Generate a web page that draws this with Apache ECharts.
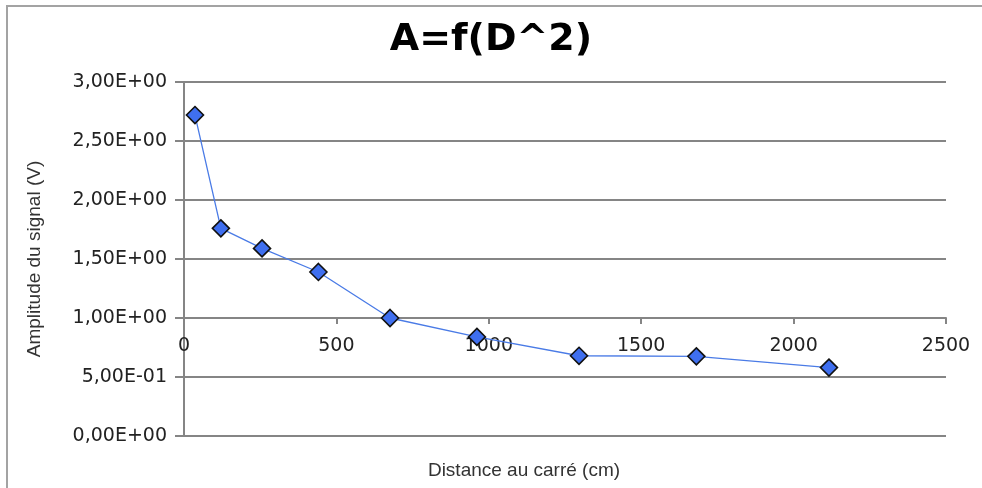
<!DOCTYPE html>
<html>
<head>
<meta charset="utf-8">
<title>A=f(D^2)</title>
<script src="https://cdn.jsdelivr.net/npm/echarts@6/dist/echarts.min.js"></script>
<style>
  html, body { margin: 0; padding: 0; background: #ffffff; }
  #chart { width: 982px; height: 488px; }
</style>
</head>
<body>
<div id="chart"></div>
<script>
// Squared distance (cm) and measured signal amplitude (V)
const distanceSquared = [36, 121, 256, 441, 676, 961, 1296, 1681, 2116];
const amplitude = [2.72, 1.76, 1.59, 1.39, 1.00, 0.84, 0.68, 0.675, 0.58];

// Tick labels in the spreadsheet's scientific notation
const yTickValues = [0, 0.5, 1, 1.5, 2, 2.5, 3];
const yTickLabels = ['0,00E+00', '5,00E-01', '1,00E+00', '1,50E+00', '2,00E+00', '2,50E+00', '3,00E+00'];
const xTickLabels = ['0', '500', '1000', '1500', '2000', '2500'];

const chartTitle = 'A=f(D^2)';
const xAxisTitle = 'Distance au carré (cm)';
const yAxisTitle = 'Amplitude du signal (V)';

const points = distanceSquared.map((d, i) => [d, amplitude[i]]);

const gridColor = '#858585';
const tickFont = 'DejaVu Sans';
const nameFont = 'Liberation Sans';

const chart = echarts.init(document.getElementById('chart'), null, { renderer: 'canvas' });

chart.setOption({
  animation: false,
  backgroundColor: '#ffffff',
  title: [
    {
      text: chartTitle,
      left: 'center',
      top: 16,
      textStyle: { fontFamily: tickFont, fontWeight: 'bold', fontSize: 38, color: '#000000' }
    },
    {
      text: xAxisTitle,
      left: 519,
      top: 456,
      textAlign: 'center',
      textStyle: { fontFamily: nameFont, fontWeight: 'normal', fontSize: 19, color: '#333333' }
    }
  ],
  grid: { left: 184, right: 36, top: 82, bottom: 52, containLabel: false },
  xAxis: {
    type: 'value',
    min: 0,
    max: 2500,
    interval: 500,
    position: 'bottom',
    offset: -118,
    axisLine: { show: true, onZero: false, lineStyle: { color: gridColor, width: 2 } },
    axisTick: { show: true, inside: false, length: 6, lineStyle: { color: gridColor, width: 2 } },
    axisLabel: {
      margin: 19,
      fontFamily: tickFont,
      fontSize: 19,
      color: '#222222',
      formatter: (v) => {
        const idx = Math.round(v / 500);
        return xTickLabels[idx] !== undefined ? xTickLabels[idx] : '';
      }
    },
    splitLine: { show: false }
  },
  yAxis: {
    type: 'value',
    min: 0,
    max: 3,
    interval: 0.5,
    name: yAxisTitle,
    nameLocation: 'middle',
    nameRotate: 90,
    nameGap: 140,
    nameTextStyle: { fontFamily: nameFont, fontSize: 19, color: '#333333' },
    axisLine: { show: true, lineStyle: { color: gridColor, width: 2 } },
    axisTick: { show: true, inside: false, length: 9, lineStyle: { color: gridColor, width: 2 } },
    axisLabel: {
      margin: 17,
      fontFamily: tickFont,
      fontSize: 19,
      color: '#222222',
      formatter: (v) => {
        const idx = yTickValues.findIndex((t) => Math.abs(t - v) < 1e-9);
        return idx >= 0 ? yTickLabels[idx] : '';
      }
    },
    splitLine: { show: true, lineStyle: { color: gridColor, width: 2 } }
  },
  series: [
    {
      type: 'line',
      data: points,
      symbol: 'diamond',
      symbolSize: 17,
      showAllSymbol: true,
      lineStyle: { color: '#4a7be6', width: 1.3 },
      itemStyle: { color: '#3f6fef', borderColor: '#111111', borderWidth: 1.6 },
      z: 5
    }
  ],
  graphic: [
    {
      type: 'polyline',
      shape: { points: [[7, 488], [7, 6], [982, 6]] },
      style: { stroke: '#a3a3a3', lineWidth: 2, fill: null },
      silent: true
    }
  ]
});
</script>
</body>
</html>
